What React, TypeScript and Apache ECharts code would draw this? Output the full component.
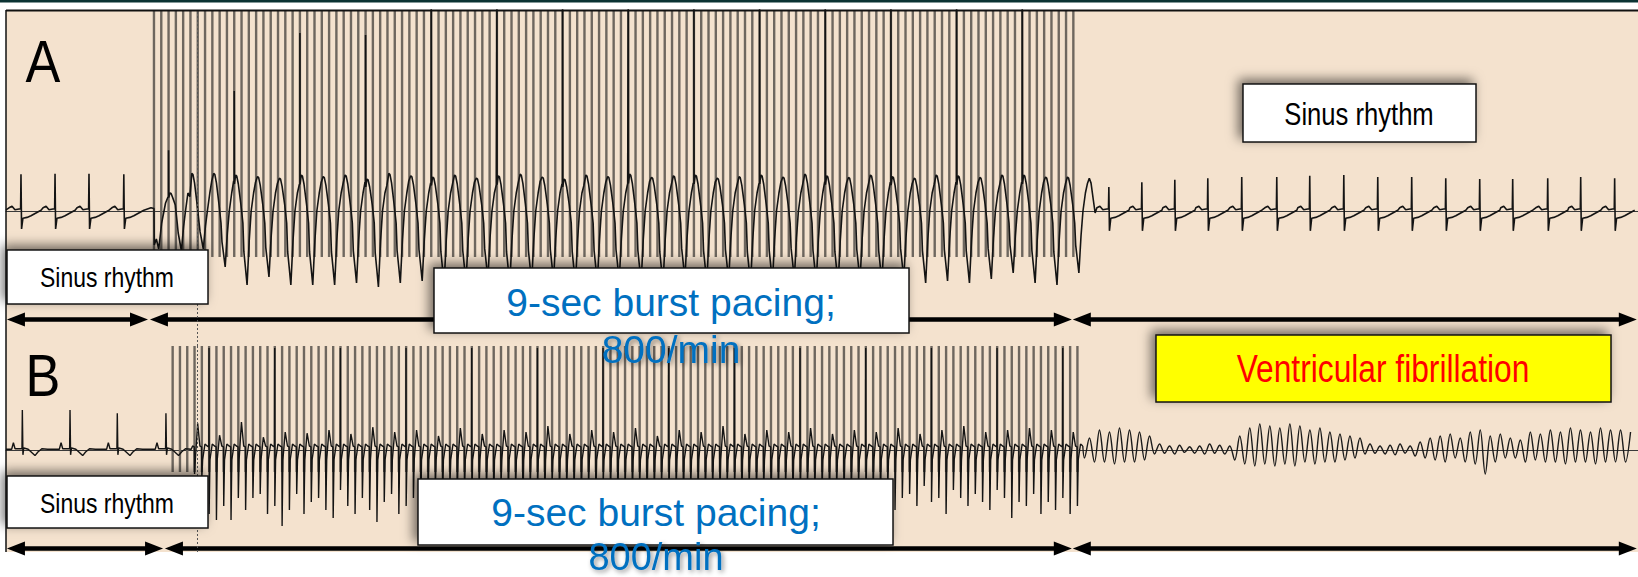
import React, { useEffect, useRef } from "react";
import * as echarts from "echarts";

// ---------- time axis (ms across the panel) ----------
const T_MAX = 16775;
const PACE_MS = 75; // 800/min burst pacing

// ---------- Trace A ----------
const A_Y = [-3.375, 5.025]; // mV range of the A strip
const A_PRE_R = [154, 504, 853, 1211];
const A_PRE_AMP = [0.92, 0.93, 0.93, 0.92];
const A_PACE0 = 1521;
const A_PACE_N = 127;
const A_PACE_LO = -1.15;
const A_ONSET_T = [1490, 1521, 1524, 1545, 1570, 1600, 1640, 1665];
const A_ONSET_V = [0.08, 0.06, -0.85, -0.7, -0.95, -0.3, 0.2, 0.35];
const A_PEAK0 = 1685;
const A_PEAK = [0.45, 0.94, 0.94, 0.9, 0.86, 0.82, 0.9, 0.86, 0.9, 0.8, 0.94, 0.88, 0.85, 0.9, 0.82, 0.88, 0.92, 0.85, 0.8, 0.9, 0.86, 0.92, 0.84, 0.88, 0.9, 0.82, 0.86, 0.9, 0.85, 0.92, 0.88, 0.84, 0.9, 0.86, 0.82, 0.9, 0.88, 0.84, 0.9, 0.9, 0.85, 0.85, 0.82];
const A_TROUGH = [1.0, 0.95, 1.4, 1.85, 1.65, 1.85, 1.85, 1.85, 1.8, 1.9, 1.8, 1.75, 1.85, 1.8, 1.7, 1.85, 1.8, 1.75, 1.85, 1.8, 1.75, 1.8, 1.85, 1.7, 1.8, 1.75, 1.85, 1.8, 1.7, 1.8, 1.85, 1.75, 1.8, 1.7, 1.8, 1.75, 1.8, 1.7, 1.55, 1.8, 1.85, 1.55];
const A_SPIKE_H = [1.52, 3.0, 4.45, 4.4, 5.1, 5.1, 5.1, 5.1, 5.1, 5.1, 5.1, 5.1, 5.1, 5.1]; // every 3rd cycle
const A_POST_R = [11336, 11675, 12014, 12353, 12702, 13062, 13401, 13751, 14100, 14449, 14799, 15148, 15487, 15847, 16186, 16535];
const A_POST_AMP = [0.6, 0.72, 0.78, 0.82, 0.85, 0.85, 0.88, 0.9, 0.85, 0.85, 0.82, 0.8, 0.8, 0.82, 0.85, 0.82];

// sinus complex (A) template: ms from R, mV (R slot index 5)
const SIN_A_T = [-123, -92, -62, -21, -4, 0, 6, 20, 62, 103, 154, 206];
const SIN_A_V = [0.08, 0.12, 0.03, 0.05, 0.05, 0, -0.45, -0.18, -0.16, -0.12, -0.05, 0.02];
const SIN_A_R = 5;

// paced cycle (A) template: ms from peak; value = P*p + D*d + c
const CYC_T = [0, 12, 28, 55, 75, 85, 100, 118, 140, 160, 185, 205];
const CYC_P = [1, 0.97, 0.75, 0, 0, 0, 0, 0, 0, 0, 0, 0.8];
const CYC_D = [0, 0, 0, 0, 0, -0.55, -0.75, -1, -0.4, 0, 0, 0];
const CYC_C = [0, 0, 0, 0.15, -0.3, 0, 0, 0, 0, 0, 0.45, 0];
const LAST_T = [0, 18, 40, 60];
const LAST_P = [1, 0.85, 0, 0];
const LAST_C = [0, 0, 0.3, -0.05];

// ---------- Trace B ----------
const B_Y = [-2.55, 2.6];
const B_PRE_R = [168, 658, 1144, 1644];
const B_PRE_AMP = [1.0, 1.0, 0.92, 0.92];
const SIN_B_T = [-110, -92, -75, -4, 0, 6, 15, 60, 130, 160, 200, 260];
const SIN_B_V = [0.02, 0.18, 0.03, 0.03, 0, -0.12, 0.05, 0.02, -0.14, -0.05, 0.03, 0.02];
const SIN_B_R = 4;
const B_PACE0 = 1713;
const B_PACE_LO = -0.55;
const B_DEPTH = [
  0.6, 0.55, 0.5, 0.6, 0.7, 1.6, 1.75, 1.4, 1.75, 1.2,
  1.5, 1.2, 1.1, 1.6, 1.4, 1.9, 1.5, 1.1, 1.6, 1.3,
  1.2, 1.5, 1.7, 1.0, 1.4, 1.6, 1.2, 1.5, 1.8, 1.3,
  1.1, 1.6, 1.4, 1.2, 1.7, 1.2, 1.0, 1.4, 0.9, 1.3,
  1.1, 1.5, 1.0, 1.2, 1.4, 0.9, 1.3, 1.1, 1.6, 1.0,
  1.2, 1.3, 0.9, 1.4, 1.1, 1.2, 1.5, 1.0, 1.3, 0.9,
  1.2, 1.4, 1.1, 1.3, 1.0, 1.6, 1.2, 0.9, 1.3, 1.1,
  1.4, 1.0, 1.2, 1.5, 1.1, 1.3, 0.9, 1.2, 1.4, 1.0,
  1.3, 1.1, 1.6, 1.2, 1.0, 1.3, 1.4, 0.9, 1.2, 1.1,
  1.5, 1.0, 1.3, 1.2, 0.9, 1.4, 1.1, 1.3, 1.0, 1.5,
  1.2, 1.1, 1.4, 0.9, 1.3, 1.2, 1.6, 1.0, 1.2, 1.4,
  1.1, 1.3, 1.5, 1.0, 1.2, 1.7, 1.3, 1.4, 1.1, 1.6,
  1.3, 1.5, 1.2, 1.6, 1.4,
];
const B_HUMP = [0.2, 0.67, 0.37, 0.7, 0.32, 0.45, 0.42, 0.5, 0.4, 0.57, 0.45, 0.5, 0.35, 0.55, 0.4, 0.5, 0.45, 0.6, 0.4, 0.5, 0.45, 0.55, 0.35, 0.5, 0.45, 0.6, 0.4, 0.5, 0.45, 0.55, 0.4, 0.5, 0.45, 0.55, 0.4, 0.5, 0.6, 0.45, 0.5, 0.55, 0.5, 0.45];
const B_SPIKE_IDX = [5, 14, 23, 32, 41, 50, 59, 68, 77, 86, 95, 104, 113, 122];
const VF_T0 = 11085;
const VF_PERIOD = 103;
const VF_PEAK = [
  0.3, 0.5, 0.45, 0.55, 0.5, 0.45, 0.35,
  0.15, 0.1, 0.12, 0.08, 0.1, 0.15, 0.12, 0.1,
  0.35, 0.55, 0.65, 0.6, 0.55, 0.65, 0.6, 0.5, 0.55, 0.45, 0.4, 0.35, 0.3,
  0.15, 0.1, 0.12, 0.15, 0.1, 0.2,
  0.3, 0.35, 0.4, 0.3, 0.45, 0.5, 0.35, 0.4, 0.3, 0.25, 0.45, 0.4, 0.5, 0.45, 0.55, 0.5, 0.45, 0.55, 0.5, 0.5, 0.45,
];
const VF_TROUGH = [
  -0.2, -0.3, -0.3, -0.35, -0.3, -0.3, -0.25,
  -0.1, -0.08, -0.1, -0.06, -0.08, -0.1, -0.08, -0.1,
  -0.25, -0.35, -0.4, -0.35, -0.4, -0.35, -0.4, -0.3, -0.35, -0.3, -0.3, -0.25, -0.2,
  -0.1, -0.08, -0.1, -0.12, -0.08, -0.15,
  -0.2, -0.25, -0.3, -0.2, -0.3, -0.35, -0.6, -0.3, -0.2, -0.2, -0.3, -0.25, -0.3, -0.3, -0.35, -0.3, -0.3, -0.35, -0.3, -0.3, -0.3,
];

// ---------- annotations ----------
const DASH_T = 1963;
const ARROWS_A = [[10, 1459], [1480, 10955], [10966, 16762]];
const ARROWS_B = [[10, 1614], [1634, 10955], [10966, 16762]];
const ARROW_A_Y = -2.71;
const ARROW_B_Y = -2.46;
const ARROW_HEAD_MS = 92;

type P = [number, number];
function collector() {
  const pts: P[] = [];
  const add = (t: number, v: number) => {
    if (!pts.length || t >= pts[pts.length - 1][0]) pts.push([t, v]);
  };
  return { pts, add };
}

function buildA(): P[] {
  const { pts, add } = collector();
  add(0, 0.03);
  A_PRE_R.forEach((r, i) => SIN_A_T.forEach((dt, j) => add(r + dt, j === SIN_A_R ? A_PRE_AMP[i] : SIN_A_V[j])));
  A_ONSET_T.forEach((t, j) => add(t, A_ONSET_V[j]));
  const cyc = 3 * PACE_MS;
  A_PEAK.forEach((p, k) => {
    const t0 = A_PEAK0 + k * cyc;
    if (k % 3 === 0 && A_SPIKE_H[k / 3] != null) {
      const tp = t0 - 14;
      const v = 0.75 * p;
      add(tp, v);
      add(tp, A_SPIKE_H[k / 3]);
      add(tp + 2, v);
    }
    if (k === A_PEAK.length - 1) {
      LAST_T.forEach((dt, j) => add(t0 + dt, p * LAST_P[j] + LAST_C[j]));
    } else {
      const d = A_TROUGH[k];
      CYC_T.forEach((dt, j) => add(t0 + dt, p * CYC_P[j] + d * CYC_D[j] + CYC_C[j]));
    }
  });
  A_POST_R.forEach((r, i) =>
    SIN_A_T.forEach((dt, j) => add(r + dt, j === SIN_A_R ? A_POST_AMP[i] : SIN_A_V[j] * (j === 6 ? 1.1 : 1)))
  );
  return pts;
}

function buildB(): P[] {
  const { pts, add } = collector();
  add(0, 0.02);
  B_PRE_R.forEach((r, i) => SIN_B_T.forEach((dt, j) => add(r + dt, j === SIN_B_R ? B_PRE_AMP[i] : SIN_B_V[j])));
  B_DEPTH.forEach((d, i) => {
    const tp = B_PACE0 + i * PACE_MS;
    add(tp - 3, 0.08);
    if (B_SPIKE_IDX.indexOf(i) >= 0) {
      add(tp - 1, 0.08);
      add(tp - 1, B_Y[1] - 0.05);
      add(tp, 0.1);
    }
    add(tp, -d);
    add(tp + 8, -0.25);
    add(tp + 32, i % 3 === 0 ? B_HUMP[i / 3] ?? 0.4 : 0.15);
    add(tp + 55, 0.1);
  });
  return pts;
}

function buildVF(start: P): P[] {
  const { pts, add } = collector();
  add(start[0], start[1]);
  VF_PEAK.forEach((p, c) => {
    const t = VF_T0 + c * VF_PERIOD;
    add(t, VF_TROUGH[c]);
    add(t + VF_PERIOD / 2, p);
  });
  return pts;
}

const FONT = "'Liberation Sans', Arial, sans-serif";

function txt(x: number, y: number, text: string, size: number, fill: string, sx = 1, extra: any = {}) {
  return {
    type: "text",
    x,
    y,
    scaleX: sx,
    z: 120,
    style: { text, fill, fontSize: size, fontFamily: FONT, align: "center", verticalAlign: "middle", ...extra },
  };
}

function box(x: number, y: number, w: number, h: number, fill = "#ffffff") {
  return {
    type: "rect",
    z: 110,
    shape: { x, y, width: w, height: h },
    style: {
      fill,
      stroke: "#161616",
      lineWidth: 1.5,
      shadowBlur: 12,
      shadowColor: "rgba(0,0,0,0.55)",
      shadowOffsetX: -4,
      shadowOffsetY: -4,
    },
  };
}

const SHADOW = { textShadowColor: "rgba(0,0,0,0.45)", textShadowBlur: 5, textShadowOffsetX: 2, textShadowOffsetY: 2 };

export default function App() {
  const ref = useRef<HTMLDivElement>(null);

  useEffect(() => {
    if (!ref.current) return;
    const chart = echarts.init(ref.current, undefined, { renderer: "svg" });

    const aEcg = buildA();
    const bEcg = buildB();
    const vf = buildVF(bEcg[bEcg.length - 1]);
    const aPace = Array.from({ length: A_PACE_N }, (_, i) => [A_PACE0 + i * PACE_MS, A_PACE_LO, A_Y[1]]);
    const bPace = B_DEPTH.map((_, i) => [B_PACE0 + i * PACE_MS, B_PACE_LO, B_Y[1]]);

    const paceRender = (params: any, api: any) => {
      const p1 = api.coord([api.value(0), api.value(1)]);
      const p2 = api.coord([api.value(0), api.value(2)]);
      return {
        type: "line",
        shape: { x1: p1[0], y1: p1[1], x2: p2[0], y2: p2[1] },
        style: { stroke: "#6e675f", lineWidth: 2.4 },
      };
    };

    const arrowData = (spans: number[][], y: number) =>
      spans.map(([a, b]) => [{ coord: [a + ARROW_HEAD_MS, y] }, { coord: [b - ARROW_HEAD_MS, y] }]);

    const arrowMark = (spans: number[][], y: number) => ({
      silent: true,
      animation: false,
      symbol: ["triangle", "triangle"],
      symbolSize: [14, 18],
      label: { show: false },
      emphasis: { disabled: true },
      lineStyle: { color: "#000000", width: 4.5, type: "solid" },
      data: arrowData(spans, y),
    });

    const dashMark = (range: number[]) => ({
      silent: true,
      animation: false,
      symbol: ["none", "none"],
      label: { show: false },
      emphasis: { disabled: true },
      lineStyle: { color: "#555555", width: 1, type: [2, 2] },
      data: [[{ coord: [DASH_T, range[0]] }, { coord: [DASH_T, range[1]] }]],
    });

    const axisX = (i: number) => ({
      type: "value",
      gridIndex: i,
      min: 0,
      max: T_MAX,
      axisLine: { show: true, onZero: true, lineStyle: { color: "#3a3a3a", width: 1 } },
      axisTick: { show: false },
      axisLabel: { show: false },
      splitLine: { show: false },
    });
    const axisY = (i: number, r: number[]) => ({
      type: "value",
      gridIndex: i,
      min: r[0],
      max: r[1],
      axisLine: { show: false },
      axisTick: { show: false },
      axisLabel: { show: false },
      splitLine: { show: false },
    });

    const option: any = {
      animation: false,
      backgroundColor: "#ffffff",
      grid: [
        { left: 6, right: 0, top: 10, height: 336 },
        { left: 6, right: 0, top: 346, height: 206 },
      ],
      xAxis: [axisX(0), axisX(1)],
      yAxis: [axisY(0, A_Y), axisY(1, B_Y)],
      series: [
        { type: "custom", xAxisIndex: 0, yAxisIndex: 0, data: aPace, renderItem: paceRender, clip: true, silent: true, z: 2 },
        {
          type: "line", xAxisIndex: 0, yAxisIndex: 0, data: aEcg, symbol: "none", silent: true, z: 3,
          lineStyle: { color: "#141414", width: 1.6 },
          markLine: arrowMark(ARROWS_A, ARROW_A_Y),
        },
        { type: "line", xAxisIndex: 0, yAxisIndex: 0, data: [], symbol: "none", silent: true, z: 4, markLine: dashMark(A_Y) },
        { type: "custom", xAxisIndex: 1, yAxisIndex: 1, data: bPace, renderItem: paceRender, clip: true, silent: true, z: 2 },
        {
          type: "line", xAxisIndex: 1, yAxisIndex: 1, data: bEcg, symbol: "none", silent: true, z: 3,
          lineStyle: { color: "#141414", width: 1.4 },
          markLine: arrowMark(ARROWS_B, ARROW_B_Y),
        },
        {
          type: "line", xAxisIndex: 1, yAxisIndex: 1, data: vf, symbol: "none", silent: true, z: 3, smooth: 0.35,
          lineStyle: { color: "#1b1b1b", width: 1.4 },
        },
        { type: "line", xAxisIndex: 1, yAxisIndex: 1, data: [], symbol: "none", silent: true, z: 4, markLine: dashMark(B_Y) },
      ],
      graphic: [
        { type: "rect", z: -10, shape: { x: 0, y: 0, width: 1638, height: 2.5 }, style: { fill: "#0b3333" } },
        { type: "rect", z: -10, shape: { x: 6, y: 10, width: 1632, height: 542 }, style: { fill: "#f4e2ce" } },
        { type: "line", z: 50, shape: { x1: 6, y1: 10.5, x2: 1638, y2: 10.5 }, style: { stroke: "#111111", lineWidth: 2 } },
        { type: "line", z: 50, shape: { x1: 6, y1: 10, x2: 6, y2: 552 }, style: { stroke: "#111111", lineWidth: 1.5 } },
        txt(43, 61, "A", 60, "#000000", 0.87),
        txt(43, 375, "B", 60, "#000000", 0.87),
        box(7, 250, 201, 54),
        txt(107, 277.5, "Sinus rhythm", 28, "#000000", 0.82),
        box(1243, 84, 233, 58),
        txt(1359, 114, "Sinus rhythm", 32, "#000000", 0.8),
        box(7, 476, 201, 52),
        txt(107, 503, "Sinus rhythm", 28, "#000000", 0.82),
        box(434, 268, 475, 65),
        txt(671, 302, "9-sec burst pacing;", 39, "#0070c0"),
        txt(671, 349, "800/min", 39, "#0070c0", 1, SHADOW),
        box(418, 479, 475, 66),
        txt(656, 512.5, "9-sec burst pacing;", 39, "#0070c0"),
        txt(656, 557, "800/min", 38, "#0070c0", 1, SHADOW),
        box(1156, 335, 455, 67, "#ffff00"),
        txt(1383, 368, "Ventricular fibrillation", 38, "#ff0000", 0.835),
      ],
    };

    chart.setOption(option);
    return () => chart.dispose();
  }, []);

  return <div ref={ref} style={{ position: "fixed", left: 0, top: 0, width: 1638, height: 577 }} />;
}
